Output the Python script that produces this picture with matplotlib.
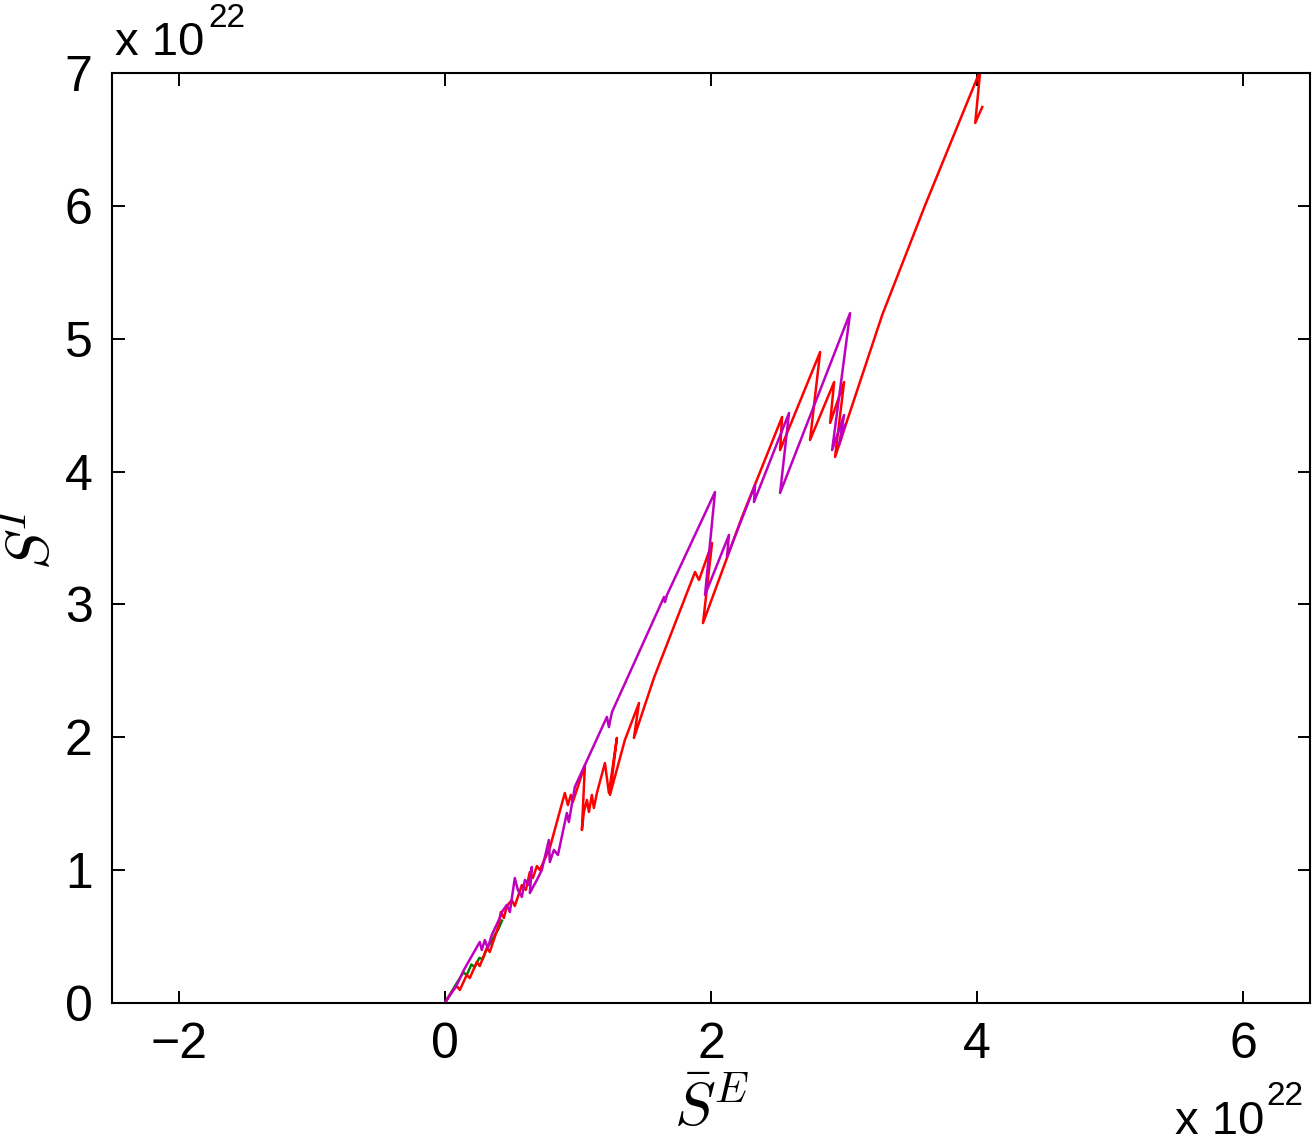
import matplotlib
matplotlib.use("Agg")
import matplotlib.pyplot as plt
import numpy as np

plt.rcParams["font.family"] = ["Liberation Sans", "DejaVu Sans"]
plt.rcParams["mathtext.fontset"] = "cm"

# values in units of 1e22
red_x = [0, 0.053, 0.090, 0.113, 0.165, 0.188, 0.241, 0.263, 0.316, 0.338, 0.406, 0.421, 0.444,
         0.466, 0.504, 0.526, 0.579, 0.609, 0.639, 0.662, 0.692, 0.714, 0.789, 0.902, 0.925, 0.947,
         0.962, 1.053, 1.030, 1.045, 1.068, 1.083, 1.105, 1.120, 1.143, 1.203, 1.233, 1.293, 1.241,
         1.353, 1.459, 1.421, 1.571, 1.880, 1.910, 2.008, 1.940, 2.233, 2.534, 2.519, 2.820, 2.744,
         2.925, 2.895, 3.000, 2.932, 3.286, 3.609, 4.015, 4.023, 3.985, 4.038]
red_y = [0, 0.083, 0.128, 0.098, 0.211, 0.188, 0.309, 0.278, 0.414, 0.384, 0.587, 0.685, 0.640,
         0.730, 0.775, 0.730, 0.888, 0.851, 0.986, 0.941, 1.031, 1.001, 1.167, 1.581, 1.490, 1.566,
         1.513, 1.791, 1.302, 1.438, 1.528, 1.438, 1.566, 1.468, 1.581, 1.806, 1.581, 1.995, 1.566,
         1.980, 2.258, 1.995, 2.446, 3.244, 3.184, 3.462, 2.860, 3.658, 4.411, 4.162, 4.900, 4.238,
         4.674, 4.366, 4.674, 4.110, 5.178, 6.006, 7.000, 7.020, 6.624, 6.744]

mag_x = [0, 0.090, 0.143, 0.241, 0.263, 0.278, 0.301, 0.323, 0.353, 0.406, 0.429, 0.466, 0.489,
         0.526, 0.549, 0.579, 0.602, 0.632, 0.654, 0.639, 0.692, 0.729, 0.782, 0.789, 0.820, 0.850,
         0.917, 0.932, 0.977, 1.218, 1.233, 1.256, 1.647, 1.654, 1.669, 2.030, 1.955, 2.135, 2.120,
         2.331, 2.323, 2.586, 2.519, 3.045, 2.910, 3.000, 2.962, 3.008]
mag_y = [0, 0.135, 0.248, 0.421, 0.459, 0.399, 0.474, 0.414, 0.512, 0.625, 0.685, 0.738, 0.685,
         0.941, 0.851, 0.798, 0.926, 0.888, 1.024, 0.828, 0.926, 1.001, 1.227, 1.061, 1.152, 1.114,
         1.430, 1.362, 1.626, 2.153, 2.077, 2.190, 3.056, 3.018, 3.071, 3.846, 3.071, 3.523, 3.357,
         3.899, 3.771, 4.441, 3.839, 5.193, 4.162, 4.426, 4.200, 4.350]

grn_x = [0, 0.09, 0.14, 0.165, 0.20, 0.225, 0.26, 0.285, 0.32, 0.35, 0.38, 0.40, 0.43]
grn_y = [0, 0.15, 0.23, 0.21, 0.29, 0.27, 0.34, 0.33, 0.42, 0.46, 0.52, 0.55, 0.62]

xticks = [-2, 0, 2, 4, 6]
yticks = [0, 1, 2, 3, 4, 5, 6, 7]

W, H = 1312, 1143
fig = plt.figure(figsize=(W / 100, H / 100), dpi=100)
ax = fig.add_axes([112 / W, 1 - 1003 / H, (1310 - 112) / W, (1003 - 73) / H])

ax.plot(grn_x, grn_y, color=(0, 0.5, 0), lw=1.8)
ax.plot(red_x, red_y, color=(1, 0, 0), lw=1.8)
ax.plot(mag_x, mag_y, color=(0.75, 0, 0.75), lw=1.8)

ax.set_xlim(-2.5, 6.5)
ax.set_ylim(0, 7)
ax.set_xticks(xticks)
ax.set_yticks(yticks)
ax.set_xticklabels(["\u22122" if t == -2 else str(t) for t in xticks])
ax.tick_params(direction="in", length=9, width=1.4, labelsize=36,
               top=True, right=True, pad=14)
for s in ax.spines.values():
    s.set_linewidth(1.5)

ax.set_xlabel(r"$\bar{S}^E$", fontsize=44, labelpad=8)
ax.set_ylabel(r"$\bar{S}^I$", fontsize=44, labelpad=2)

# MATLAB style exponent labels
fig.text(115 / W, 1 - 55 / H, "x 10", fontsize=34, ha="left", va="baseline")
fig.text(208 / W, 1 - 27 / H, "22", fontsize=24, ha="left", va="baseline")
fig.text(1175 / W, 1 - 1134 / H, "x 10", fontsize=34, ha="left", va="baseline")
fig.text(1266 / W, 1 - 1105 / H, "22", fontsize=24, ha="left", va="baseline")

fig.savefig("out.png", dpi=100)
